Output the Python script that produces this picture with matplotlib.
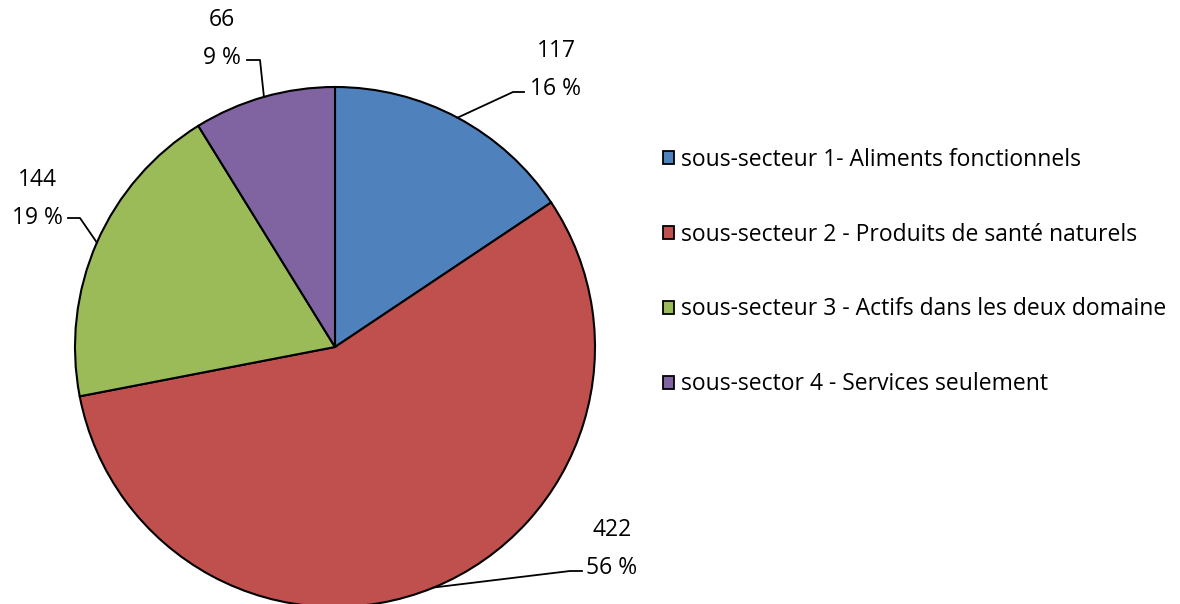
import numpy as np
import matplotlib.pyplot as plt
from matplotlib.patches import Patch

plt.rcParams["font.family"] = ["Open Sans", "DejaVu Sans"]

labels = [
    "sous-secteur 1- Aliments fonctionnels",
    "sous-secteur 2 - Produits de santé naturels",
    "sous-secteur 3 - Actifs dans les deux domaine",
    "sous-sector 4 - Services seulement",
]
values = [117, 422, 144, 66]
pcts = ["16 %", "56 %", "19 %", "9 %"]
colors = ["#4F81BD", "#C0504D", "#9BBB59", "#8064A2"]

W, H = 1180, 604
fig = plt.figure(figsize=(W / 100, H / 100), dpi=100)
ax = fig.add_axes([0, 0, 1, 1])

cx, cy, r = 335, H - 347, 260
wedges, _ = ax.pie(values, colors=colors, startangle=90, counterclock=False,
                   center=(cx, cy), radius=r, frame=True,
                   wedgeprops=dict(edgecolor="black", linewidth=1.5))
ax.set_xlim(0, W)
ax.set_ylim(0, H)
ax.set_aspect("equal")
ax.axis("off")

# label placement (pixel coords from top): text centre, elbow, line end
label_pos = [(556, 70), (612, 549), (37, 199), (222, 39)]
elbows = [((513, 92), (524, 92)), ((570, 571), (582, 571)),
          ((80, 218), (68, 218)), ((260, 60), (247, 60))]

for w, v, p, (tx, ty), (e1, e2) in zip(wedges, values, pcts, label_pos, elbows):
    mid = np.deg2rad((w.theta1 + w.theta2) / 2)
    sx, sy = cx + r * np.cos(mid), cy + r * np.sin(mid)
    ax.plot([sx, e1[0], e2[0]], [sy, H - e1[1], H - e2[1]], color="black", lw=1.3,
            clip_on=False)
    ax.text(tx, H - ty, f"{v}\n{p}", ha="center", va="center", fontsize=16.5,
            linespacing=1.75)

handles = [Patch(facecolor=c, edgecolor="black", linewidth=1.3) for c in colors]
fig.legend(handles, labels, loc="center left", bbox_to_anchor=(663 / W, 1 - 272 / H),
           frameon=False, fontsize=16.5, handlelength=0.48, handleheight=0.48,
           handletextpad=0.3, labelspacing=2.22, borderpad=0, borderaxespad=0)

fig.savefig("out.png", dpi=100, facecolor="white")
